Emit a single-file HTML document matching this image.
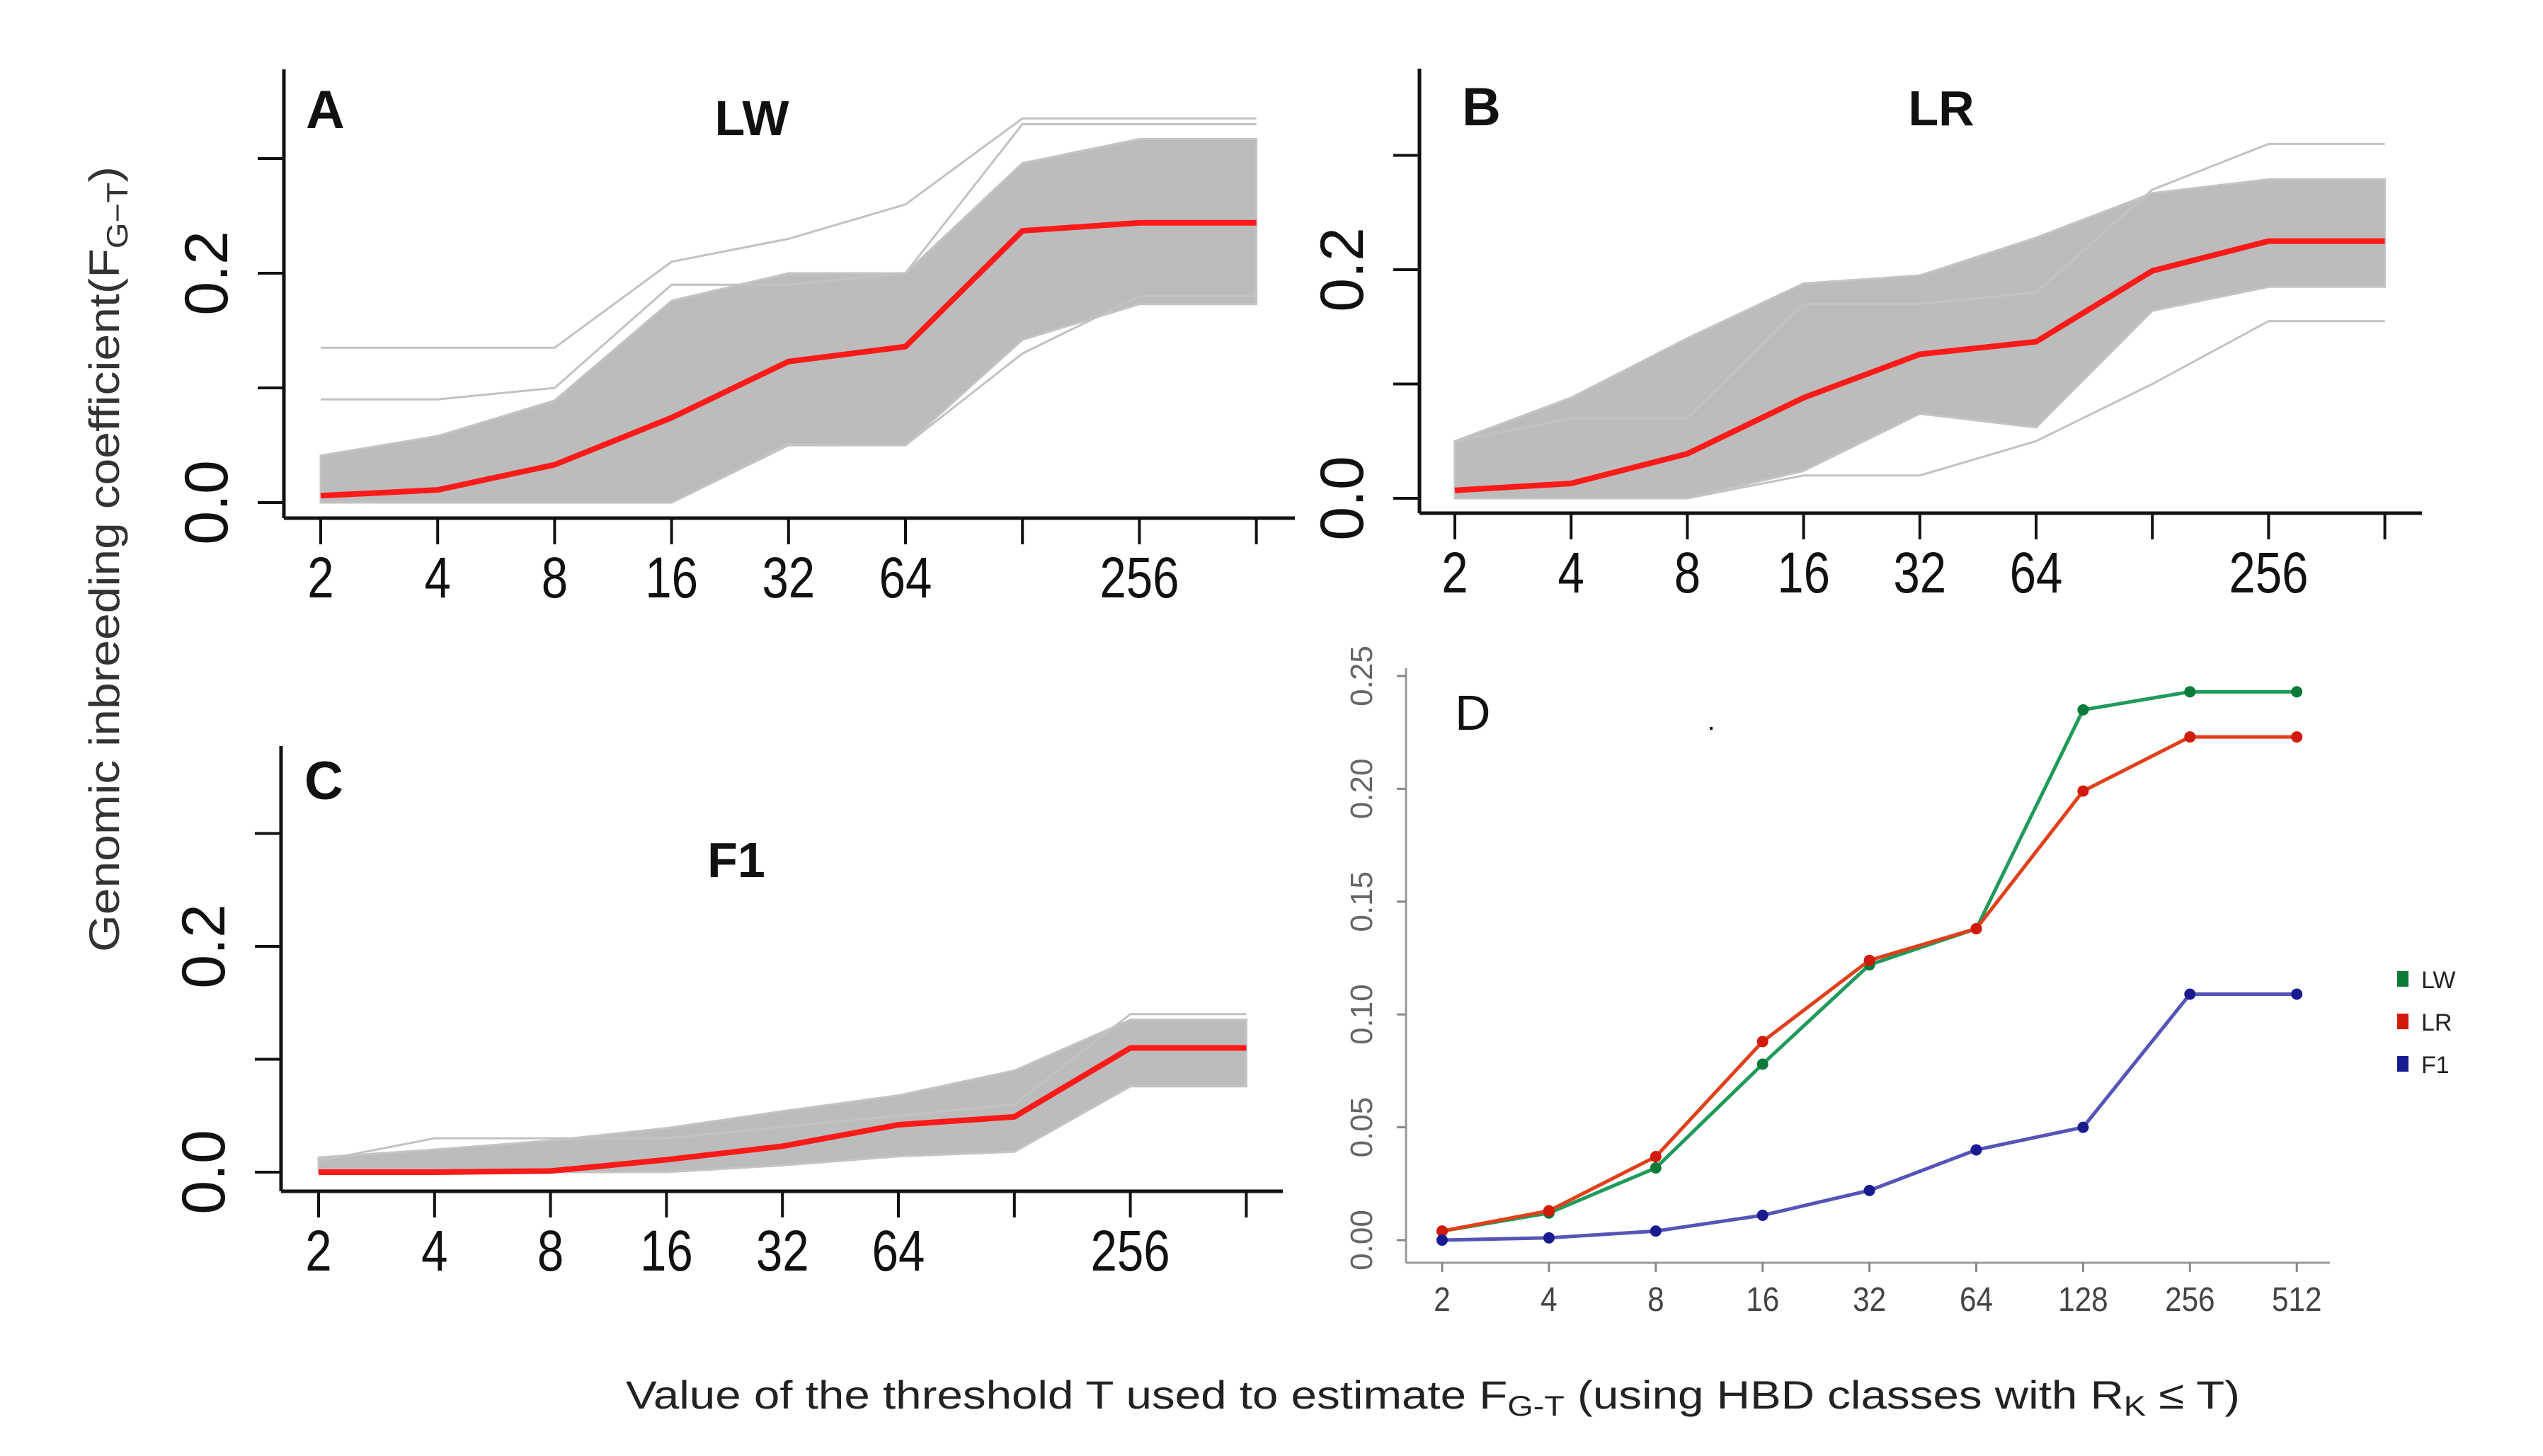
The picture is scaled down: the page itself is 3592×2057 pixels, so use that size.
<!DOCTYPE html>
<html><head><meta charset="utf-8"><style>
html,body{margin:0;padding:0;background:#fff}
svg{display:block}
text{font-family:"Liberation Sans",Arial,sans-serif}
</style></head><body>
<svg id="fig" width="3592" height="2057" viewBox="0 0 3592 2057" xmlns="http://www.w3.org/2000/svg">
<rect width="3592" height="2057" fill="#fff"/>
<text transform="translate(168,790) rotate(-90)" text-anchor="middle" font-size="60" fill="#333" textLength="1110" lengthAdjust="spacingAndGlyphs">Genomic inbreeding coefficient(F<tspan font-size="42" dy="12">G−T</tspan><tspan dy="-12">)</tspan></text>
<text x="884" y="1990" font-size="56" fill="#222" textLength="2280" lengthAdjust="spacingAndGlyphs">Value of the threshold T used to estimate F<tspan font-size="40" dy="10">G-T</tspan><tspan dy="-10"> (using HBD classes with R</tspan><tspan font-size="40" dy="10">K</tspan><tspan dy="-10"> ≤  T)</tspan></text>
<g id="panels"></g>
</svg>
<script>
// shared categories
const thresholds = [2,4,8,16,32,64,128,256,512];
const bigTickLabels = ["2","4","8","16","32","64","","256",""];
const bigYTicks = [0,0.1,0.2,0.3];
const bigYLabels = ["0.0","","0.2",""];
// Panel A (LW)
const A_median = [0.006,0.011,0.033,0.074,0.123,0.136,0.237,0.244,0.244];
const A_upper  = [0.041,0.058,0.089,0.176,0.200,0.200,0.296,0.317,0.317];
const A_lower  = [0.000,0.000,0.000,0.000,0.051,0.050,0.142,0.173,0.173];
const A_out1 = [0.135,0.135,0.135,0.210,0.230,0.260,0.335,0.335,0.335];
const A_out2 = [0.090,0.090,0.100,0.190,0.190,0.200,0.330,0.330,0.330];
const A_out3 = [0.000,0.000,0.000,0.000,0.050,0.050,0.130,0.180,0.180];
// Panel B (LR)
const B_median = [0.007,0.013,0.039,0.088,0.126,0.137,0.199,0.225,0.225];
const B_upper  = [0.050,0.088,0.140,0.188,0.195,0.228,0.267,0.279,0.279];
const B_lower  = [0.000,0.000,0.000,0.024,0.074,0.062,0.164,0.185,0.185];
const B_out1 = [0.050,0.070,0.070,0.170,0.170,0.180,0.270,0.310,0.310];
const B_out2 = [0.000,0.000,0.000,0.020,0.020,0.050,0.100,0.155,0.155];
// Panel C (F1)
const C_median = [0.000,0.000,0.001,0.011,0.023,0.042,0.049,0.110,0.110];
const C_upper  = [0.013,0.020,0.028,0.039,0.054,0.068,0.090,0.135,0.135];
const C_lower  = [0.000,0.000,0.000,0.000,0.006,0.014,0.018,0.076,0.076];
const C_out1 = [0.010,0.030,0.030,0.030,0.040,0.050,0.060,0.140,0.140];
// Panel D
const D_LW = [0.004,0.012,0.032,0.078,0.122,0.138,0.235,0.243,0.243];
const D_LR = [0.004,0.013,0.037,0.088,0.124,0.138,0.199,0.223,0.223];
const D_F1 = [0.000,0.001,0.004,0.011,0.022,0.040,0.050,0.109,0.109];
const D_yTicks = [0,0.05,0.10,0.15,0.20,0.25];
const D_yLabels = ["0.00","0.05","0.10","0.15","0.20","0.25"];
const D_xLabels = ["2","4","8","16","32","64","128","256","512"];
const D_legend = ["LW","LR","F1"];

const NS="http://www.w3.org/2000/svg";
const root=document.getElementById('panels');
function mk(tag,attrs,parent){const e=document.createElementNS(NS,tag);for(const k in attrs)e.setAttribute(k,attrs[k]);(parent||root).appendChild(e);return e;}

function bigPanel(p){
  const g=mk('g',{});
  
  
  const sx=i=>p.x0+i*p.dx, sy=v=>p.y0-v*p.k;
  let pts=thresholds.map((t,i)=>sx(i)+','+sy(p.upper[i]));
  for(let i=thresholds.length-1;i>=0;i--)pts.push(sx(i)+','+sy(p.lower[i]));
  const band=mk('polygon',{points:pts.join(' '),fill:'#bcbcbc',stroke:'#c4c4c4','stroke-width':3},g);
  
  
  p.outs.forEach(o=>{
    const l=mk('polyline',{points:o.map((v,i)=>sx(i)+','+sy(v)).join(' '),fill:'none',stroke:'#c2c2c2','stroke-width':3},g);
    
    
  });
  const med=mk('polyline',{points:p.median.map((v,i)=>sx(i)+','+sy(v)).join(' '),fill:'none',stroke:'#ff1a1a','stroke-width':8,'stroke-linejoin':'round'},g);
  
  
  const ya=mk('line',{x1:p.ax,y1:p.atop,x2:p.ax,y2:p.ay,stroke:'#111','stroke-width':5},g);
  
  
  const xa=mk('line',{x1:p.ax,y1:p.ay,x2:p.aright,y2:p.ay,stroke:'#111','stroke-width':5},g);
  
  
  bigYTicks.forEach((v,i)=>{
    mk('line',{x1:p.ax-37,y1:sy(v),x2:p.ax,y2:sy(v),stroke:'#111','stroke-width':4},g);
    if(bigYLabels[i]){
      const t=mk('text',{transform:`translate(${p.ax-80},${sy(v)}) rotate(-90)`,'text-anchor':'middle','font-size':86,fill:'#111'},g);
      t.textContent=bigYLabels[i];
      
      
    }
  });
  thresholds.forEach((t,i)=>{
    mk('line',{x1:sx(i),y1:p.ay,x2:sx(i),y2:p.ay+37,stroke:'#111','stroke-width':4},g);
    if(bigTickLabels[i]){
      const tx=mk('text',{transform:`translate(${sx(i)},${p.ay+112}) scale(0.82,1)`,'text-anchor':'middle','font-size':82,fill:'#111'},g);
      tx.textContent=bigTickLabels[i];
      
      
    }
  });
  const L=mk('text',{x:p.lx,y:p.ly,'font-size':76,'font-weight':'bold',fill:'#111'},g);
  L.textContent=p.letter;
  
  
  const T=mk('text',{x:p.tx,y:p.ty,'text-anchor':'middle','font-size':70,'font-weight':'bold',fill:'#111'},g);
  T.textContent=p.title;
  
  
}
bigPanel({name:'panel-a-lw',x0:453,dx:165.2,y0:710,k:1620,ax:401,atop:98,ay:732,aright:1829,
  median:A_median,upper:A_upper,lower:A_lower,outs:[A_out1,A_out2,A_out3],letter:'A',lx:432,ly:181,title:'LW',tx:1062,ty:191});
bigPanel({name:'panel-b-lr',x0:2055,dx:164.2,y0:704,k:1615,ax:2005,atop:97,ay:725,aright:3421,
  median:B_median,upper:B_upper,lower:B_lower,outs:[B_out1,B_out2],letter:'B',lx:2065,ly:177,title:'LR',tx:2742,ty:177});
bigPanel({name:'panel-c-f1',x0:450,dx:163.8,y0:1656,k:1595,ax:397,atop:1054,ay:1683,aright:1812,
  median:C_median,upper:C_upper,lower:C_lower,outs:[C_out1],letter:'C',lx:430,ly:1129,title:'F1',tx:1040,ty:1239});

(function(){
  const g=mk('g',{});
  
  
  const x0=2037,dx=150.9,y0=1752,k=3188;
  const sx=i=>x0+i*dx, sy=v=>y0-v*k;
  mk('line',{x1:1986,y1:944,x2:1986,y2:1784,stroke:'#999','stroke-width':3},g);
  mk('line',{x1:1986,y1:1784,x2:3291,y2:1784,stroke:'#999','stroke-width':3},g);
  D_yTicks.forEach((v,i)=>{
    mk('line',{x1:1973,y1:sy(v),x2:1986,y2:sy(v),stroke:'#888','stroke-width':3},g);
    const t=mk('text',{transform:`translate(1938,${sy(v)}) rotate(-90)`,'text-anchor':'middle','font-size':44,fill:'#666'},g);
    t.textContent=D_yLabels[i];
    
    
  });
  D_xLabels.forEach((s,i)=>{
    mk('line',{x1:sx(i),y1:1784,x2:sx(i),y2:1797,stroke:'#888','stroke-width':3},g);
    const t=mk('text',{transform:`translate(${sx(i)},1852) scale(0.88,1)`,'text-anchor':'middle','font-size':48,fill:'#444'},g);
    t.textContent=s;
    
    
  });
  const series=[[D_LW,'#1f9a5a','#0e7a3a','lw'],[D_LR,'#e0401a','#d21a0a','lr'],[D_F1,'#5555b8','#1a1a90','f1']];
  series.forEach(([vals,lc,pc,nm])=>{
    const l=mk('polyline',{points:vals.map((v,i)=>sx(i)+','+sy(v)).join(' '),fill:'none',stroke:lc,'stroke-width':5},g);
    
    
    vals.forEach((v,i)=>{
      const c=mk('circle',{cx:sx(i),cy:sy(v),r:8,fill:pc},g);
      
      
    });
  });
  const D=mk('text',{x:2055,y:1031,'font-size':70,fill:'#111'},g);
  D.textContent='D';
  
  
  mk('rect',{x:2415,y:1027,width:4,height:4,fill:'#111'},g);
  const cols=['#0e7a3a','#d21a0a','#1a1a90'];
  D_legend.forEach((s,i)=>{
    const y=1383+i*60;
    const r=mk('rect',{x:3386,y:y-11,width:16,height:22,fill:cols[i]},g);
    
    
    const t=mk('text',{x:3420,y:y+13,'font-size':34,fill:'#222'},g);
    t.textContent=s;
    
    
  });
})();
</script>
</body></html>
